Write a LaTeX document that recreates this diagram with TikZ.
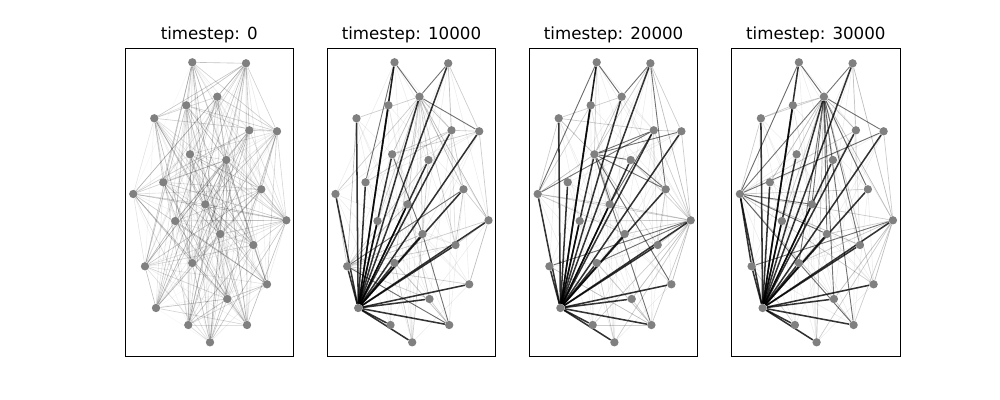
\documentclass[tikz,border=0pt]{standalone}
\usepackage{fontspec}
\setmainfont{DejaVu Sans}
\usetikzlibrary{backgrounds}

\begin{document}
\begin{tikzpicture}[x=0.72pt, y=-0.72pt]
        \tikzset{%
         every vertex/.style={
            circle,
            fill=gray,
            draw=none,
            inner sep=0pt,
            minimum size=6pt},
        faint edge/.style={black, line width=0.45pt},
        light edge/.style={black, draw opacity=0.2, line width=0.5pt},
        mid edge/.style={black, draw opacity=0.55, line width=0.65pt},
        hub edge/.style={black, draw opacity=0.8, line width=1.1pt},
        frame/.style={draw=black, line width=0.7pt},
        }
        \useasboundingbox (0,0) rectangle (1000,400);

        \def\vertexlist{1/192.3/62.3, 2/246/63.3, 3/217.3/96.7, 4/186.3/105.3,
          5/154.3/118.3, 6/249.3/130.3, 7/277/131.3, 8/190/154.3, 9/226.3/160,
          10/163.3/182.3, 11/133.3/194, 12/261.3/189.3, 13/205.3/204.3,
          14/286.3/220.3, 15/175.3/221, 16/220.3/234, 17/253.3/245,
          18/145/266.3, 19/192.3/263, 20/267/284.3, 21/227.3/299,
          22/156/308, 23/188.3/325, 24/247/325, 25/210/342.3}

        \foreach \p/\ox/\t in {1/0/0, 2/202.2/10000, 3/404.4/20000, 4/606.6/30000}
        {
            \draw [frame] (125+\ox,48) rectangle (293.5+\ox,356);
            \node [anchor=base, font=\fontsize{12}{14}\selectfont] (title-\p)
                at (209.25+\ox,39.7) {timestep: \t};
            \foreach \i/\a/\b in \vertexlist
                \node [every vertex] (p\p-\i) at (\a+\ox,\b) {};
        }

        \begin{scope}[on background layer]
        % all pairs, random faint weights
        \foreach \i in {1,...,24}
        {
            \pgfmathtruncatemacro\k{\i+1}
            \foreach \j in {\k,...,25}
            {
                \pgfmathtruncatemacro\r{mod(\i*37+\j*53+\i*\j*11,19)}
                \ifnum\r<15
                    \pgfmathsetmacro\o{0.03+0.016*\r}
                    \draw [faint edge, draw opacity=\o] (p1-\i) -- (p1-\j);
                \fi
                \ifnum\r<5
                    \foreach \p in {2,3,4}
                        \draw [faint edge, draw opacity=0.07] (p\p-\i) -- (p\p-\j);
                \fi
            }
        }

        \foreach \p in {2,3,4}
        \foreach \j in {1,...,21,23,24,25}
            \draw [hub edge] (p\p-22) -- (p\p-\j);

        % timestep 10000
        \foreach \a/\b/\s in {1/3/mid, 2/3/mid, 3/7/mid, 1/10/mid, 1/4/mid,
            8/16/mid, 16/24/mid, 12/18/mid, 18/24/mid,
            3/5/light, 3/8/light, 3/9/light, 3/13/light, 3/16/light, 3/12/light,
            3/14/light, 3/17/light, 3/6/light, 3/15/light, 3/19/light, 3/11/light,
            6/8/light, 7/8/light, 6/10/light, 17/18/light, 14/18/light,
            16/18/light, 20/18/light, 21/18/light, 13/18/light, 9/18/light,
            19/24/light, 21/24/light, 14/20/light, 14/17/light, 7/14/light,
            12/14/light, 2/6/light, 2/7/light, 19/25/light, 16/25/light,
            13/21/light, 11/18/light, 5/18/light, 6/7/light, 6/12/light,
            9/16/light, 12/17/light}
            \draw [\s\space edge] (p2-\a) -- (p2-\b);

        % timestep 20000
        \foreach \a/\b/\s in {1/3/mid, 2/3/mid, 1/11/mid, 8/9/mid, 8/24/mid,
            8/6/mid, 8/7/mid, 8/12/mid, 8/20/mid, 6/11/mid, 6/13/mid, 2/12/mid,
            14/18/mid, 14/19/mid, 9/12/mid, 1/4/mid,
            2/7/light, 8/1/light, 8/3/light, 8/5/light, 8/11/light, 8/2/light,
            8/13/light, 8/16/light, 8/17/light, 11/13/light, 11/14/light,
            11/16/light, 11/5/light, 11/4/light, 14/20/light, 14/24/light,
            14/25/light, 14/21/light, 14/16/light, 14/17/light, 14/13/light,
            14/9/light, 14/12/light, 14/6/light, 14/7/light, 14/23/light,
            14/15/light, 2/14/light, 12/17/light, 18/24/light, 19/24/light,
            21/24/light, 23/24/light, 19/25/light, 6/7/light, 5/3/light,
            5/6/light}
            \draw [\s\space edge] (p3-\a) -- (p3-\b);

        % timestep 30000
        \foreach \a/\b/\s in {1/3/mid, 2/3/mid, 3/7/mid, 3/12/mid, 3/13/mid,
            3/16/mid, 3/17/mid, 3/19/mid, 3/21/mid, 3/24/mid, 3/11/mid,
            1/11/mid, 11/7/mid, 11/13/mid, 11/16/mid, 11/19/mid, 11/18/hub,
            19/24/mid, 14/18/mid,
            3/5/light, 3/4/light, 3/8/light, 3/9/light, 3/20/light, 3/14/light,
            3/25/light, 3/6/light, 3/10/light, 3/15/light, 4/5/light,
            11/5/light, 11/17/light, 11/21/light, 11/14/light, 11/12/light,
            11/20/light, 11/6/light, 14/19/light, 14/20/light, 14/24/light,
            14/21/light, 14/16/light, 14/25/light, 2/6/light, 2/14/light,
            7/14/light, 18/23/light, 21/24/light}
            \draw [\s\space edge] (p4-\a) -- (p4-\b);
        \end{scope}
\end{tikzpicture}
\end{document}
